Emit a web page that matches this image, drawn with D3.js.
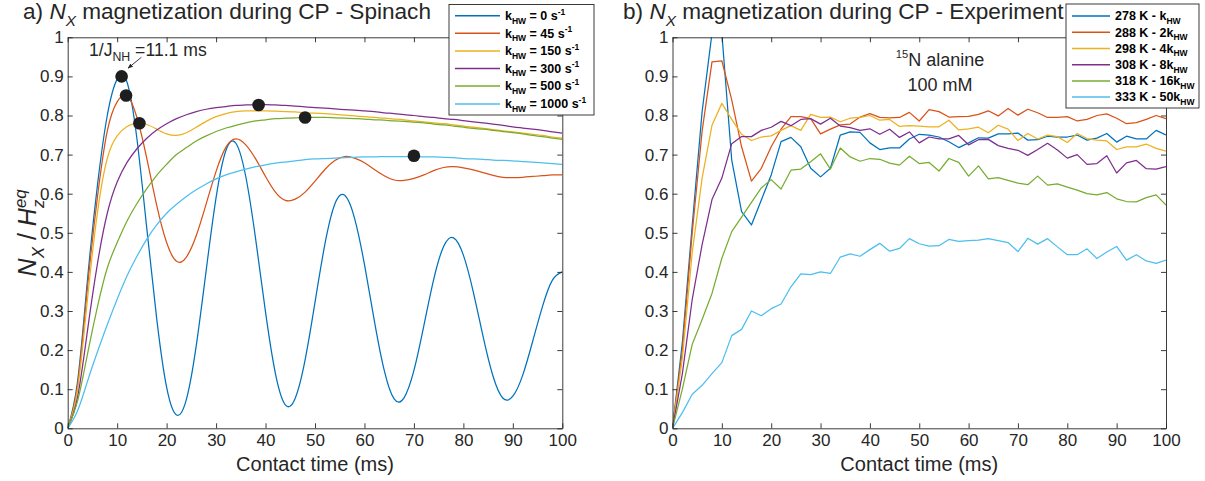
<!DOCTYPE html>
<html>
<head>
<meta charset="utf-8">
<script src="https://cdn.jsdelivr.net/npm/d3@7"></script>
<style>
  html, body { margin: 0; padding: 0; background: #fff; }
  svg { display: block; font-family: "Liberation Sans", Arial, Helvetica, sans-serif; }
  text { white-space: pre; }
</style>
</head>
<body>
<svg id="chart" width="1205" height="481"></svg>
<script>
// ---------- simulated curves (panel a), contact time in ms ----------
const simTime = [0,2,4,6,8,10,12,14,16,18,20,22,24,26,28,30,32,34,36,38,40,42,44,46,48,50,
                 52,54,56,58,60,62,64,66,68,70,72,74,76,78,80,82,84,86,88,90,92,94,96,98,100];
const simK0 = [0,0.12,0.38,0.62,0.80,0.893,0.885,0.74,0.51,0.28,0.105,0.034,0.074,0.212,0.404,0.590,0.711,0.729,0.644,0.484,
               0.297,0.140,0.060,0.077,0.175,0.322,0.471,0.573,0.596,0.537,0.419,0.275,0.148,0.075,0.078,0.148,0.262,0.381,0.465,0.487,
               0.443,0.349,0.234,0.133,0.077,0.082,0.136,0.222,0.312,0.379,0.400];
const simK45 = [0,0.11,0.36,0.59,0.76,0.835,0.85,0.795,0.69,0.57,0.475,0.427,0.438,0.493,0.574,0.657,0.719,0.74,0.725,0.689,
                0.644,0.604,0.583,0.586,0.604,0.632,0.662,0.685,0.695,0.691,0.679,0.662,0.646,0.635,0.634,0.639,0.648,0.659,0.667,0.669,
                0.666,0.661,0.654,0.647,0.642,0.641,0.642,0.644,0.646,0.648,0.648];
const simK150 = [0,0.10,0.33,0.55,0.69,0.748,0.772,0.780,0.777,0.765,0.753,0.749,0.756,0.770,0.785,0.797,0.805,0.810,0.812,0.812,
                 0.812,0.811,0.810,0.809,0.807,0.806,0.805,0.803,0.801,0.799,0.797,0.795,0.793,0.791,0.789,0.786,0.784,0.781,0.779,0.776,
                 0.773,0.770,0.767,0.764,0.761,0.758,0.755,0.752,0.749,0.745,0.742];
const simK300 = [0,0.08,0.25,0.42,0.55,0.63,0.68,0.715,0.742,0.763,0.779,0.792,0.802,0.810,0.816,0.820,0.823,0.826,0.827,0.828,
                 0.828,0.827,0.826,0.824,0.822,0.820,0.819,0.817,0.815,0.814,0.812,0.810,0.807,0.805,0.802,0.800,0.797,0.795,0.792,0.790,
                 0.787,0.784,0.781,0.778,0.775,0.771,0.768,0.765,0.762,0.758,0.755];
const simK500 = [0,0.07,0.19,0.31,0.41,0.475,0.53,0.575,0.613,0.647,0.675,0.700,0.718,0.735,0.748,0.759,0.768,0.775,0.781,0.786,
                 0.789,0.792,0.793,0.794,0.795,0.795,0.795,0.794,0.793,0.792,0.791,0.789,0.788,0.786,0.785,0.783,0.781,0.778,0.776,0.773,
                 0.770,0.767,0.765,0.762,0.759,0.756,0.753,0.749,0.746,0.742,0.739];
const simK1000 = [0,0.045,0.12,0.195,0.265,0.33,0.39,0.44,0.484,0.52,0.55,0.573,0.593,0.61,0.625,0.638,0.648,0.656,0.663,0.669,
                  0.674,0.678,0.681,0.684,0.687,0.689,0.690,0.691,0.692,0.693,0.694,0.694,0.695,0.695,0.695,0.695,0.694,0.694,0.693,0.692,
                  0.690,0.689,0.688,0.686,0.685,0.684,0.682,0.681,0.679,0.677,0.675];
const simRates = [0, 45, 150, 300, 500, 1000];          // k_HW in s^-1

// maxima marked on the simulated curves
const markerTime  = [10.9, 11.8, 14.5, 38.6, 48.0, 70.0];
const markerValue = [0.900, 0.851, 0.780, 0.827, 0.795, 0.697];

// ---------- measured curves (panel b) ----------
const expTime = simTime.slice();
const exp278 = [0,0.22,0.52,0.81,1.01,1.01,0.686,0.554,0.52,0.584,0.648,0.733,0.744,0.72,0.665,0.643,0.665,0.75,0.758,0.757,
                0.73,0.713,0.717,0.717,0.74,0.752,0.75,0.745,0.733,0.718,0.73,0.743,0.742,0.753,0.753,0.755,0.737,0.738,0.747,0.745,
                0.745,0.75,0.737,0.742,0.754,0.732,0.747,0.74,0.74,0.762,0.75];
const exp288 = [0,0.2,0.5,0.76,0.937,0.94,0.84,0.72,0.632,0.665,0.72,0.765,0.797,0.797,0.792,0.753,0.765,0.776,0.778,0.796,
                0.805,0.795,0.794,0.795,0.808,0.786,0.815,0.81,0.796,0.797,0.798,0.803,0.812,0.799,0.818,0.801,0.816,0.807,0.795,0.795,
                0.797,0.786,0.79,0.8,0.804,0.793,0.779,0.782,0.79,0.8,0.792];
const exp298 = [0,0.18,0.45,0.64,0.775,0.831,0.79,0.752,0.736,0.745,0.748,0.762,0.774,0.762,0.803,0.795,0.796,0.784,0.793,0.795,
                0.8,0.788,0.79,0.772,0.774,0.773,0.771,0.771,0.788,0.763,0.766,0.77,0.756,0.775,0.765,0.736,0.754,0.74,0.75,0.746,
                0.731,0.754,0.741,0.737,0.735,0.713,0.72,0.72,0.727,0.716,0.709];
const exp308 = [0,0.14,0.33,0.47,0.585,0.64,0.728,0.746,0.746,0.762,0.77,0.785,0.774,0.79,0.792,0.778,0.793,0.773,0.769,0.762,
                0.766,0.752,0.765,0.744,0.758,0.73,0.745,0.74,0.74,0.749,0.725,0.738,0.739,0.723,0.716,0.711,0.698,0.713,0.729,0.712,
                0.691,0.7,0.675,0.677,0.697,0.653,0.679,0.685,0.664,0.663,0.669];
const exp318 = [0,0.1,0.215,0.278,0.345,0.435,0.503,0.54,0.578,0.615,0.636,0.612,0.66,0.663,0.682,0.702,0.663,0.717,0.694,0.683,
                0.69,0.688,0.678,0.673,0.696,0.677,0.68,0.658,0.69,0.68,0.645,0.671,0.638,0.641,0.634,0.627,0.623,0.645,0.622,0.625,
                0.617,0.609,0.6,0.597,0.603,0.587,0.58,0.579,0.59,0.597,0.571];
const exp333 = [0,0.04,0.087,0.11,0.14,0.168,0.237,0.253,0.3,0.288,0.306,0.318,0.362,0.395,0.393,0.4,0.396,0.438,0.446,0.44,
                0.457,0.473,0.453,0.46,0.485,0.472,0.466,0.467,0.483,0.478,0.48,0.481,0.485,0.48,0.475,0.452,0.486,0.471,0.485,0.464,
                0.444,0.444,0.459,0.434,0.451,0.465,0.43,0.444,0.428,0.422,0.43];
const expTemps = [278, 288, 298, 308, 318, 333];         // K
const expFactors = ["", "2", "4", "8", "16", "50"];     // multiples of k_HW

// ---------- axes ----------
const xTicks = [0,10,20,30,40,50,60,70,80,90,100];
const yTicks = [0,0.1,0.2,0.3,0.4,0.5,0.6,0.7,0.8,0.9,1];
const yTickLabels = ["0","0.1","0.2","0.3","0.4","0.5","0.6","0.7","0.8","0.9","1"];

const colors = ["#0072BD", "#D95319", "#EDB120", "#7E2F8E", "#77AC30", "#4DBEEE"];
const ink = "#262626";
const FONT = "'Liberation Sans', Arial, Helvetica, sans-serif";

const svg = d3.select("#chart");
svg.append("rect").attr("width", 1205).attr("height", 481).attr("fill", "#fff");

const defs = svg.append("defs");
defs.append("marker").attr("id", "arrowhead")
  .attr("viewBox", "0 0 10 10").attr("refX", 9).attr("refY", 5)
  .attr("markerWidth", 6).attr("markerHeight", 6).attr("orient", "auto")
  .append("path").attr("d", "M0,1 L10,5 L0,9 Z").attr("fill", ink);

// Text with inline subscripts / superscripts built from tspans.
function richText(sel, parts, size) {
  let offset = 0;
  let prev = null;
  parts.forEach(p => {
    const kind = p.kind || "normal";
    const target = kind === "sub" ? 0.3 * size : kind === "sup" ? -0.42 * size : 0;
    const ts = sel.append("tspan")
      .text(p.t)
      .attr("font-size", kind === "normal" ? size : size * (p.scale || 0.68))
      .attr("dy", (target - offset).toFixed(2));
    if (p.italic) ts.attr("font-style", "italic");
    if (p.stack && prev) ts.attr("dx", -prev.node().getComputedTextLength());
    offset = target;
    prev = ts;
  });
  return sel;
}

const y = d3.scaleLinear().domain([0, 1]).range([428.3, 37.3]);

const panels = [
  {
    key: "a",
    x: d3.scaleLinear().domain([0, 100]).range([67.7, 562.3]),
    time: simTime,
    series: [simK0, simK45, simK150, simK300, simK500, simK1000],
    curve: d3.curveNatural,
    title: [{t: "a) "}, {t: "N", italic: true}, {t: "X", kind: "sub", italic: true}, {t: " magnetization during CP - Spinach"}],
    titleX: 23
  },
  {
    key: "b",
    x: d3.scaleLinear().domain([0, 100]).range([672.5, 1166]),
    time: expTime,
    series: [exp278, exp288, exp298, exp308, exp318, exp333],
    curve: d3.curveLinear,
    title: [{t: "b) "}, {t: "N", italic: true}, {t: "X", kind: "sub", italic: true}, {t: " magnetization during CP - Experiment"}],
    titleX: 623
  }
];

panels.forEach(p => {
  const g = svg.append("g").attr("class", "panel-" + p.key);
  const [x0, x1] = p.x.range();
  const [yb, yt] = y.range();

  defs.append("clipPath").attr("id", "clip-" + p.key)
    .append("rect").attr("x", x0).attr("y", yt).attr("width", x1 - x0).attr("height", yb - yt);

  // data lines
  const line = d3.line()
    .x((d, i) => p.x(p.time[i]))
    .y(d => y(d))
    .curve(p.curve);
  g.append("g").attr("clip-path", `url(#clip-${p.key})`)
    .selectAll("path").data(p.series).join("path")
    .attr("d", d => line(d))
    .attr("fill", "none")
    .attr("stroke", (d, i) => colors[i])
    .attr("stroke-width", 1.25)
    .attr("stroke-linejoin", "round");

  // frame with inward ticks on all four sides
  const styleAxis = a => {
    a.attr("font-family", FONT).attr("font-size", 17);
    a.selectAll(".domain, .tick line").attr("stroke", ink).attr("stroke-width", 0.9);
    a.selectAll(".tick text").attr("fill", ink);
  };
  g.append("g").attr("transform", `translate(0,${yb})`)
    .call(d3.axisBottom(p.x).tickValues(xTicks).tickFormat(d => d)
      .tickSizeInner(-5).tickSizeOuter(0).tickPadding(6)).call(styleAxis);
  g.append("g").attr("transform", `translate(0,${yt})`)
    .call(d3.axisTop(p.x).tickValues(xTicks).tickFormat("")
      .tickSizeInner(-5).tickSizeOuter(0)).call(styleAxis);
  g.append("g").attr("transform", `translate(${x0},0)`)
    .call(d3.axisLeft(y).tickValues(yTicks).tickFormat((d, i) => yTickLabels[i])
      .tickSizeInner(-5).tickSizeOuter(0).tickPadding(4)).call(styleAxis);
  g.append("g").attr("transform", `translate(${x1},0)`)
    .call(d3.axisRight(y).tickValues(yTicks).tickFormat("")
      .tickSizeInner(-5).tickSizeOuter(0)).call(styleAxis);

  // x axis label
  g.append("text")
    .attr("x", (x0 + x1) / 2).attr("y", 471)
    .attr("text-anchor", "middle").attr("font-size", 20).attr("fill", ink)
    .text("Contact time (ms)");

  // title
  richText(g.append("text").attr("x", p.titleX).attr("y", 19).attr("fill", ink), p.title, 22.6);

  p.g = g;
});

// ---------- panel a extras ----------
const pa = panels[0];
pa.g.append("g").selectAll("circle")
  .data(markerTime).join("circle")
  .attr("cx", d => pa.x(d))
  .attr("cy", (d, i) => y(markerValue[i]))
  .attr("r", 6.3)
  .attr("fill", "#1e1e1e");

richText(pa.g.append("text").attr("x", pa.x(4.3)).attr("y", y(0.953)).attr("fill", ink),
  [{t: "1/J"}, {t: "NH", kind: "sub", scale: 0.7}, {t: " =11.1 ms"}], 17.6);

pa.g.append("line")
  .attr("x1", pa.x(14.9)).attr("y1", y(0.949))
  .attr("x2", pa.x(12.2)).attr("y2", y(0.921))
  .attr("stroke", ink).attr("stroke-width", 0.9)
  .attr("marker-end", "url(#arrowhead)");

// y axis label
richText(svg.append("text")
  .attr("transform", `translate(36,${(y(0) + y(1)) / 2}) rotate(-90)`)
  .attr("text-anchor", "middle").attr("fill", ink),
  [{t: "N", italic: true}, {t: "X", kind: "sub", italic: true}, {t: " / "},
   {t: "H", italic: true}, {t: "z", kind: "sub", italic: true}, {t: "eq", kind: "sup", italic: true, stack: true}], 25);

// ---------- panel b extras ----------
const pb = panels[1];
richText(pb.g.append("text").attr("x", pb.x(54.2)).attr("y", 66).attr("text-anchor", "middle").attr("fill", ink),
  [{t: "15", kind: "sup", scale: 0.62}, {t: "N alanine"}], 18);
pb.g.append("text").attr("x", pb.x(54.2)).attr("y", 91).attr("text-anchor", "middle")
  .attr("font-size", 18).attr("fill", ink).text("100 mM");

// ---------- legends ----------
function drawLegend(box, rowY, lineX, textX, labels) {
  const g = svg.append("g");
  g.append("rect").attr("x", box[0]).attr("y", box[1]).attr("width", box[2]).attr("height", box[3])
    .attr("fill", "#fff").attr("stroke", ink).attr("stroke-width", 0.9);
  labels.forEach((parts, i) => {
    g.append("line").attr("x1", lineX[0]).attr("x2", lineX[1])
      .attr("y1", rowY[i]).attr("y2", rowY[i])
      .attr("stroke", colors[i]).attr("stroke-width", 1.5);
    richText(g.append("text").attr("x", textX).attr("y", rowY[i] + 4.2)
      .attr("font-weight", "bold").attr("fill", "#000"), parts, 12.5);
  });
}

drawLegend([449, 4.5, 145, 110.5],
  [15.7, 33.3, 51, 68.5, 86, 104],
  [455, 500], 505,
  simRates.map(r => [{t: "k"}, {t: "HW", kind: "sub"}, {t: ` = ${r} s`}, {t: "-1", kind: "sup"}]));

drawLegend([1066, 4, 133, 104],
  [16, 32.3, 48.5, 64.8, 81, 97],
  [1072, 1110], 1115,
  expTemps.map((T, i) => [{t: `${T} K - ${expFactors[i]}k`}, {t: "HW", kind: "sub"}]));
</script>
</body>
</html>
